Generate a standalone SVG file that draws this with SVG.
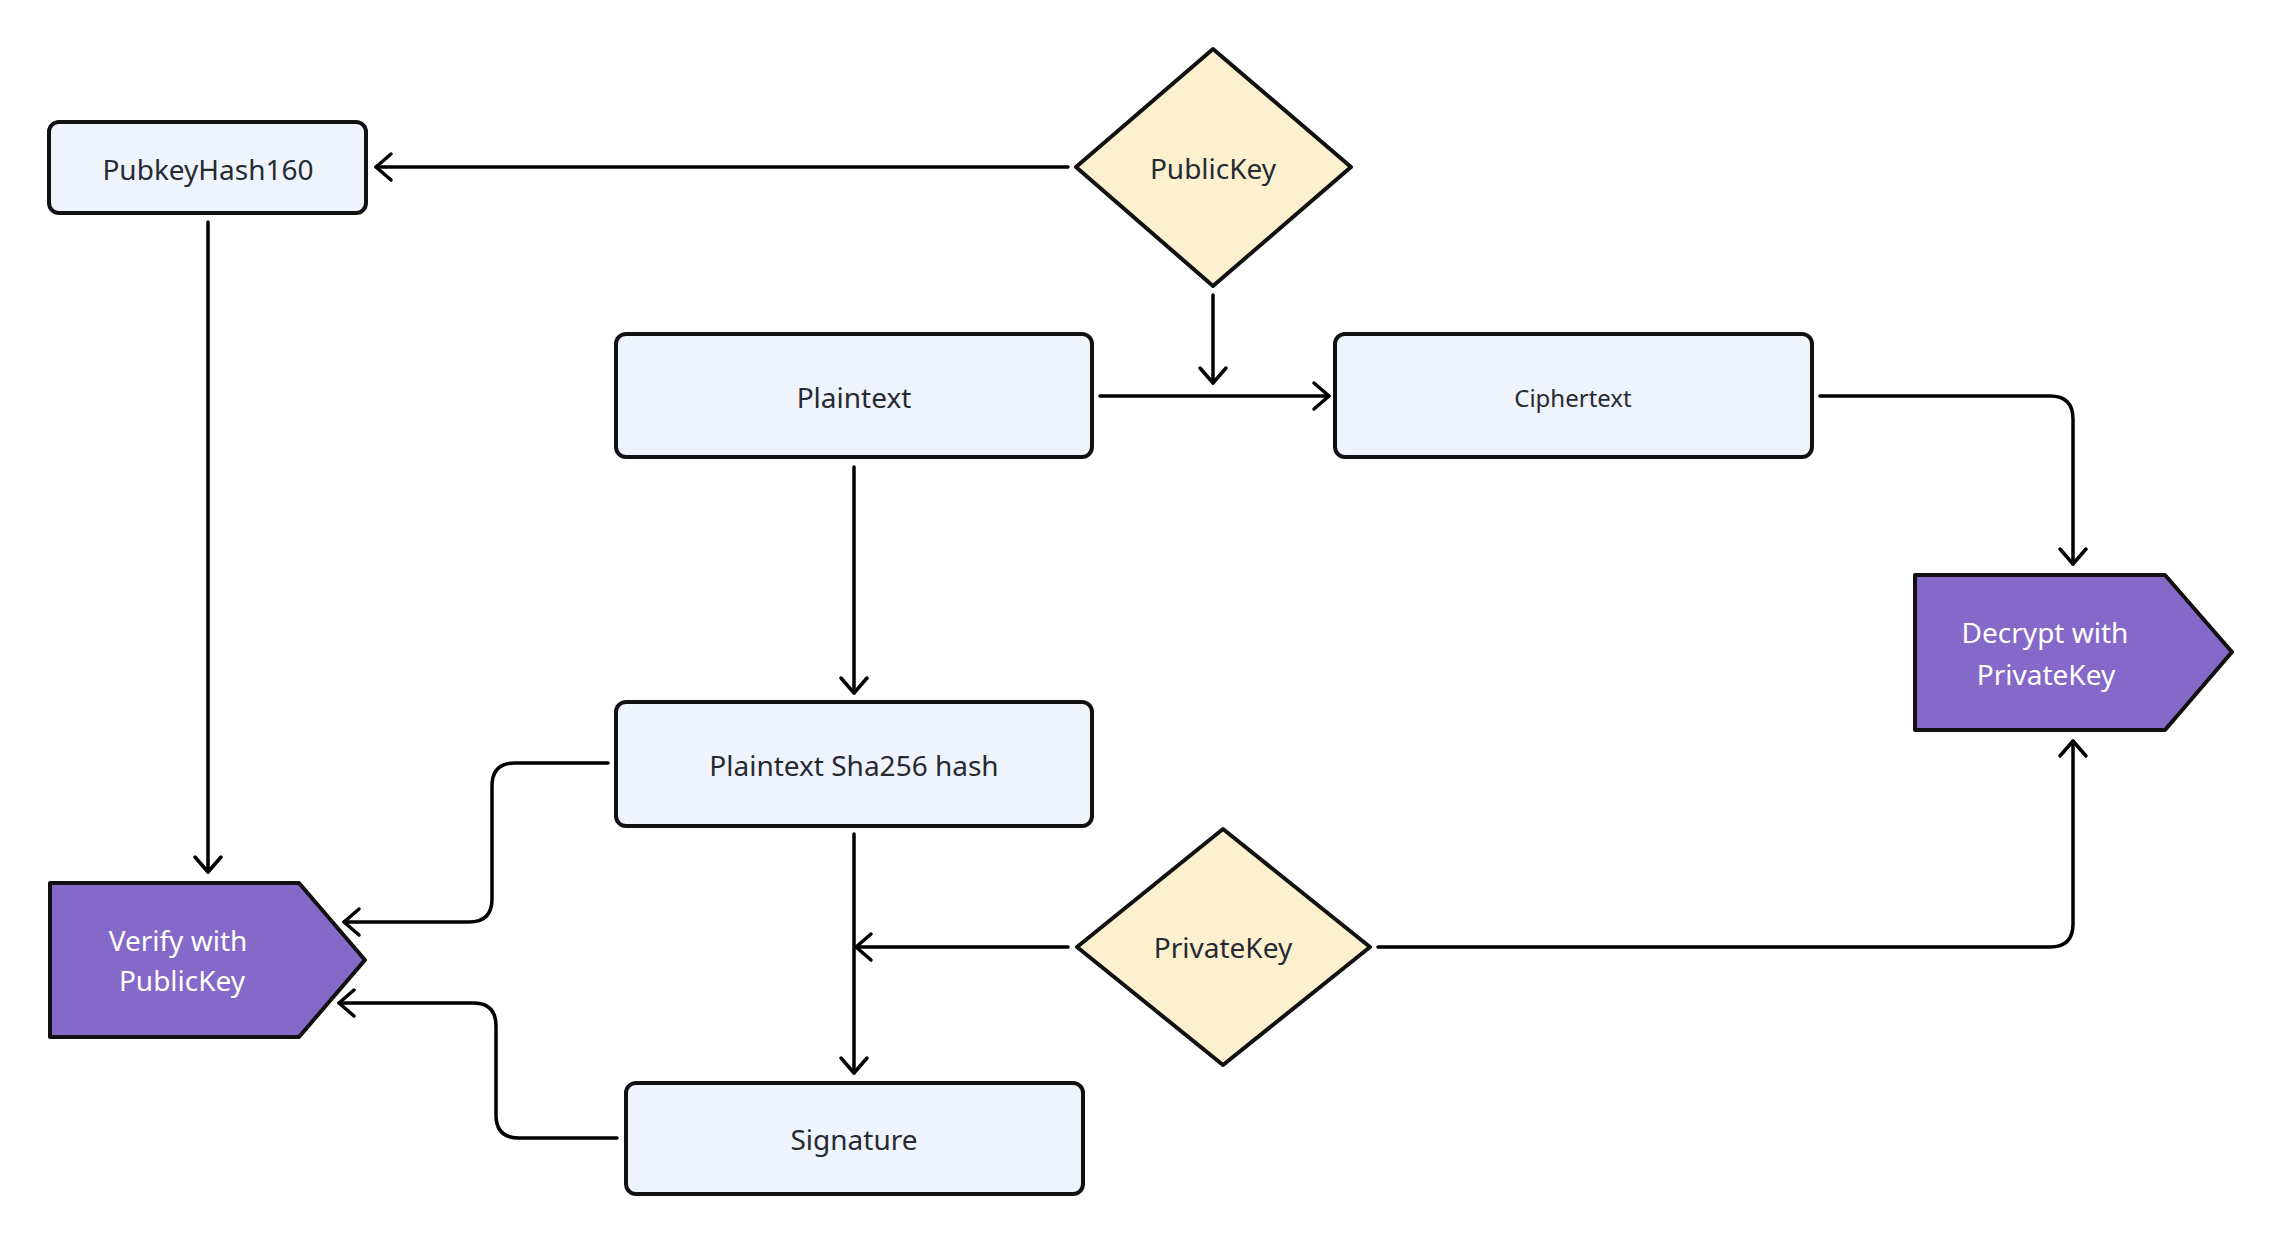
<svg xmlns="http://www.w3.org/2000/svg" width="2282" height="1244" viewBox="0 0 2282 1244">
<defs>
<style>
.box{fill:#EFF3FC;stroke:#111;stroke-width:4}
.dia{fill:#FDF0CF;stroke:#111;stroke-width:4;stroke-linejoin:round}
.act{fill:#8569C8;stroke:#111;stroke-width:4;stroke-linejoin:round}
.t{font-family:"Noto Sans","Open Sans",sans-serif;font-size:28px;fill:#262a33;text-anchor:middle}
.tw{font-family:"Noto Sans","Open Sans",sans-serif;font-size:28px;fill:#ffffff;text-anchor:middle}
.c{fill:none;stroke:#000;stroke-width:3.5;stroke-linecap:round;stroke-linejoin:round}
</style>
<marker id="ah" markerUnits="userSpaceOnUse" markerWidth="40" markerHeight="40" viewBox="-20 -20 40 40" refX="0" refY="0" orient="auto">
<path d="M-15,-13 L0,0 L-15,13" fill="none" stroke="#000" stroke-width="3.5" stroke-linecap="round" stroke-linejoin="round"/>
</marker>
</defs>
<rect width="2282" height="1244" fill="#ffffff"/>
<g id="connectors">
<path class="c" marker-end="url(#ah)" d="M1068 167 L376 167"/>
<path class="c" marker-end="url(#ah)" d="M1213 295 L1213 383"/>
<path class="c" marker-end="url(#ah)" d="M1100 396 L1329 396"/>
<path class="c" marker-end="url(#ah)" d="M1820 396 L2050 396 Q2073 396 2073 419 L2073 564"/>
<path class="c" marker-end="url(#ah)" d="M854 467 L854 693"/>
<path class="c" marker-end="url(#ah)" d="M854 834 L854 1073"/>
<path class="c" marker-end="url(#ah)" d="M1068 947 L856 947"/>
<path class="c" marker-end="url(#ah)" d="M1378 947 L2050 947 Q2073 947 2073 924 L2073 741"/>
<path class="c" marker-end="url(#ah)" d="M208 222 L208 872"/>
<path class="c" marker-end="url(#ah)" d="M608 763 L515 763 Q492 763 492 786 L492 899 Q492 922 469 922 L344 922"/>
<path class="c" marker-end="url(#ah)" d="M617 1138 L519 1138 Q496 1138 496 1115 L496 1026 Q496 1003 473 1003 L339 1003"/>
</g>
<g id="pubkeyhash160">
<rect class="box" x="49" y="122" width="317" height="91" rx="10"/>
<text class="t" x="208" y="180">PubkeyHash160</text>
</g>
<g id="publickey">
<polygon class="dia" points="1213,49 1351,167 1213,286 1076,167"/>
<text class="t" x="1213" y="179">PublicKey</text>
</g>
<g id="plaintext">
<rect class="box" x="616" y="334" width="476" height="123" rx="10"/>
<text class="t" x="854" y="408">Plaintext</text>
</g>
<g id="ciphertext">
<rect class="box" x="1335" y="334" width="477" height="123" rx="10"/>
<text class="t" x="1573" y="407" style="font-size:24px">Ciphertext</text>
</g>
<g id="decrypt">
<polygon class="act" points="1915,575 2165,575 2232,652 2165,730 1915,730"/>
<text class="tw" x="2045" y="643">Decrypt with</text>
<text class="tw" x="2046" y="685">PrivateKey</text>
</g>
<g id="sha256">
<rect class="box" x="616" y="702" width="476" height="124" rx="10"/>
<text class="t" x="854" y="776">Plaintext Sha256 hash</text>
</g>
<g id="verify">
<polygon class="act" points="50,883 299,883 365,960 299,1037 50,1037"/>
<text class="tw" x="178" y="951">Verify with</text>
<text class="tw" x="182" y="991">PublicKey</text>
</g>
<g id="privatekey">
<polygon class="dia" points="1223,829 1370,947 1223,1065 1077,947"/>
<text class="t" x="1223" y="958">PrivateKey</text>
</g>
<g id="signature">
<rect class="box" x="626" y="1083" width="457" height="111" rx="10"/>
<text class="t" x="854" y="1150">Signature</text>
</g>
</svg>
